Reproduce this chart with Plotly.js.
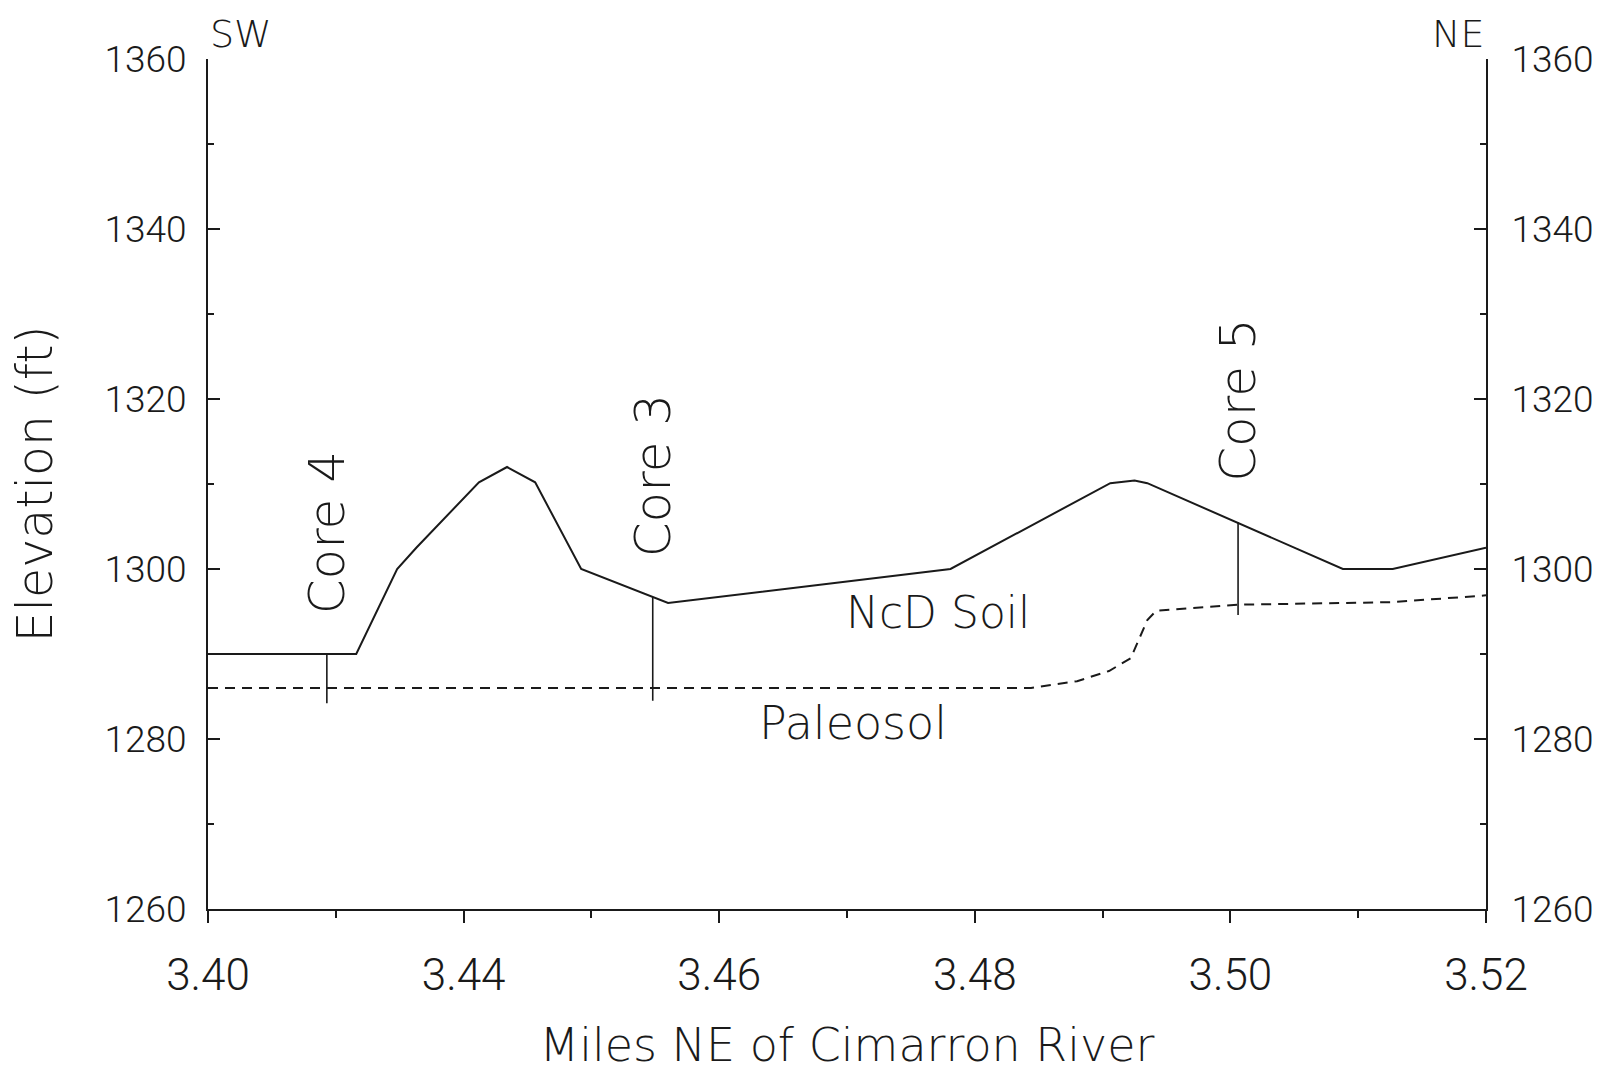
<!DOCTYPE html>
<html>
<head>
<meta charset="utf-8">
<script src="https://cdn.plot.ly/plotly-3.0.1.min.js"></script>
<style>
  html, body { margin: 0; padding: 0; background: #fff; }
  #chart { width: 1616px; height: 1072px; }
</style>
</head>
<body>
<div id="chart"></div>
<script>
// Cross-section of land surface and buried paleosol, SW to NE.
// Distance along the transect (miles NE of the Cimarron River).
const xTickVals = [3.42, 3.44, 3.46, 3.48, 3.50, 3.52];
const xTickText = ["3.40", "3.44", "3.46", "3.48", "3.50", "3.52"];

// Present land surface (top of NcD soil), elevation in feet
const surfaceMiles = [3.4200, 3.4316, 3.4348, 3.4363, 3.4412, 3.4434, 3.4456, 3.4492,
                      3.4560, 3.4781, 3.4906, 3.4925, 3.4935, 3.5088, 3.5127, 3.5200];
const surfaceElev  = [1290.0, 1290.0, 1300.0, 1302.5, 1310.2, 1312.0, 1310.2, 1300.0,
                      1296.0, 1300.0, 1310.1, 1310.4, 1310.1, 1300.0, 1300.0, 1302.5];

// Top of the buried paleosol
const paleoMiles = [3.4200, 3.4844, 3.4880, 3.4905, 3.4922, 3.4935, 3.4942, 3.5007, 3.5127, 3.5200];
const paleoElev  = [1286.0, 1286.0, 1286.8, 1288.0, 1289.5, 1294.0, 1295.1, 1295.8, 1296.1, 1296.9];

// Cores: location, surface elevation and elevation of the bottom
const coreNames  = ["Core 4", "Core 3", "Core 5"];
const coreMiles  = [3.4293, 3.4548, 3.5006];
const coreTop    = [1290.0, 1296.7, 1305.5];
const coreBottom = [1284.2, 1284.5, 1294.6];

const INK = "#1a1a1a";
const TEXT_FONT = "DejaVu Sans, Liberation Sans, sans-serif";
const TICK_FONT = "Roboto, Liberation Sans, sans-serif";

// Core lines joined into one trace, separated by gaps
const coreX = [], coreY = [];
coreMiles.forEach((m, i) => {
  coreX.push(m, m, null);
  coreY.push(coreTop[i], coreBottom[i], null);
});

const traces = [
  {
    x: surfaceMiles, y: surfaceElev, type: "scatter", mode: "lines",
    line: { color: INK, width: 2 }, hoverinfo: "skip", showlegend: false
  },
  {
    x: paleoMiles, y: paleoElev, type: "scatter", mode: "lines",
    line: { color: INK, width: 2, dash: "10px,7px" }, hoverinfo: "skip", showlegend: false
  },
  {
    x: coreX, y: coreY, type: "scatter", mode: "lines", yaxis: "y2",
    line: { color: INK, width: 1.6 }, hoverinfo: "skip", showlegend: false,
    connectgaps: false
  }
];

const annotations = coreNames.map((name, i) => ({
  x: coreMiles[i], y: coreTop[i], xref: "x", yref: "y",
  text: name, textangle: -90, showarrow: false,
  xanchor: "center", yanchor: "bottom", yshift: 38,
  font: { family: TEXT_FONT, size: 50, color: INK, weight: 200 }
}));

annotations.push(
  { x: 3.4771, y: 1294.9, xref: "x", yref: "y", text: "NcD Soil", showarrow: false,
    xanchor: "center", yanchor: "middle",
    font: { family: TEXT_FONT, size: 44, color: INK, weight: 200 } },
  { x: 3.4705, y: 1281.9, xref: "x", yref: "y", text: "Paleosol", showarrow: false,
    xanchor: "center", yanchor: "middle",
    font: { family: TEXT_FONT, size: 46, color: INK, weight: 200 } },
  { x: 0, y: 1, xref: "paper", yref: "paper", text: "SW", showarrow: false,
    xanchor: "left", yanchor: "bottom", xshift: 0, yshift: 1,
    font: { family: TEXT_FONT, size: 38, color: INK, weight: 200 } },
  { x: 1, y: 1, xref: "paper", yref: "paper", text: "NE", showarrow: false,
    xanchor: "right", yanchor: "bottom", xshift: 0, yshift: 1,
    font: { family: TEXT_FONT, size: 38, color: INK, weight: 200 } }
);

const yCommon = {
  range: [1260, 1360], tickmode: "linear", tick0: 1260, dtick: 20,
  ticks: "inside", ticklen: 12, tickwidth: 2, tickcolor: INK,
  minor: { tickmode: "linear", tick0: 1260, dtick: 10, ticks: "inside",
           ticklen: 6, tickwidth: 2, tickcolor: INK, showgrid: false },
  showline: true, linewidth: 2, linecolor: INK, mirror: false,
  showgrid: false, zeroline: false, fixedrange: true,
  tickfont: { family: TICK_FONT, size: 37, color: INK, weight: 300 }
};

const layout = {
  width: 1616, height: 1072,
  margin: { l: 208, r: 130, t: 59, b: 163, pad: 0 },
  paper_bgcolor: "#ffffff", plot_bgcolor: "#ffffff",
  showlegend: false,
  xaxis: {
    range: [3.42, 3.52], tickmode: "array", tickvals: xTickVals, ticktext: xTickText,
    ticks: "outside", ticklen: 12, tickwidth: 2, tickcolor: INK,
    minor: { tickmode: "linear", tick0: 3.42, dtick: 0.01, ticks: "outside",
             ticklen: 7, tickwidth: 2, tickcolor: INK, showgrid: false },
    showline: true, linewidth: 2, linecolor: INK, mirror: false,
    showgrid: false, zeroline: false, fixedrange: true,
    tickfont: { family: TICK_FONT, size: 44, color: INK, weight: 300 },
    ticklabelstandoff: 14,
    title: { text: "Miles NE of Cimarron River", standoff: 41,
             font: { family: TEXT_FONT, size: 46, color: INK, weight: 200 } }
  },
  yaxis: Object.assign({}, yCommon, {
    side: "left", ticklabelstandoff: 12,
    title: { text: "Elevation (ft)", standoff: 36,
             font: { family: TEXT_FONT, size: 49, color: INK, weight: 200 } }
  }),
  yaxis2: Object.assign({}, yCommon, {
    side: "right", overlaying: "y", anchor: "x", ticklabelstandoff: 16
  }),
  annotations: annotations
};

Plotly.newPlot("chart", traces, layout, { staticPlot: true, displayModeBar: false });
</script>
</body>
</html>
